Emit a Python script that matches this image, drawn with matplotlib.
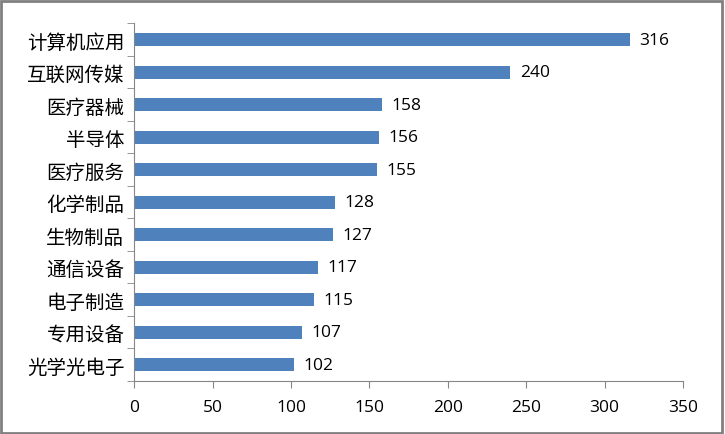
import matplotlib
matplotlib.use("Agg")
import matplotlib.pyplot as plt
from matplotlib.patches import Rectangle

plt.rcParams['font.family'] = ['Noto Sans CJK SC', 'DejaVu Sans']

categories = ["计算机应用", "互联网传媒", "医疗器械", "半导体", "医疗服务", "化学制品",
              "生物制品", "通信设备", "电子制造", "专用设备", "光学光电子"]
values = [316, 240, 158, 156, 155, 128, 127, 117, 115, 107, 102]
xticks = [0, 50, 100, 150, 200, 250, 300, 350]

fig = plt.figure(figsize=(7.25, 4.35), dpi=100)
ax = fig.add_axes([0.185, 0.122, 0.757, 0.822])

n = len(categories)
ypos = list(range(n - 1, -1, -1))
ax.barh(ypos, values, height=0.4, color="#4F81BD")
for y, v in zip(ypos, values):
    ax.text(v + 6, y, str(v), va="center", ha="left", fontsize=12.5,
            family=["Open Sans", "DejaVu Sans"])

ax.set_xlim(0, 350)
ax.set_ylim(-0.5, n - 0.5)
ax.set_xticks(xticks)
ax.set_xticklabels([str(t) for t in xticks], fontsize=12.5, family=["Open Sans", "DejaVu Sans"])
ax.set_yticks(ypos)
ax.set_yticklabels(categories, fontsize=14)
ax.tick_params(axis="y", length=0, pad=7)
ax.set_yticks([i - 0.5 for i in range(n + 1)], minor=True)
ax.tick_params(axis="y", which="minor", length=5, color="#868686", direction="out")
ax.tick_params(axis="x", length=5, color="#868686", direction="out", pad=8)
for s in ["top", "right"]:
    ax.spines[s].set_visible(False)
for s in ["left", "bottom"]:
    ax.spines[s].set_color("#868686")

fig.patches.append(Rectangle((0.002, 0.003), 0.994, 0.993, transform=fig.transFigure,
                             fill=False, edgecolor="#808080", linewidth=2))
fig.savefig("out.png", dpi=100)
